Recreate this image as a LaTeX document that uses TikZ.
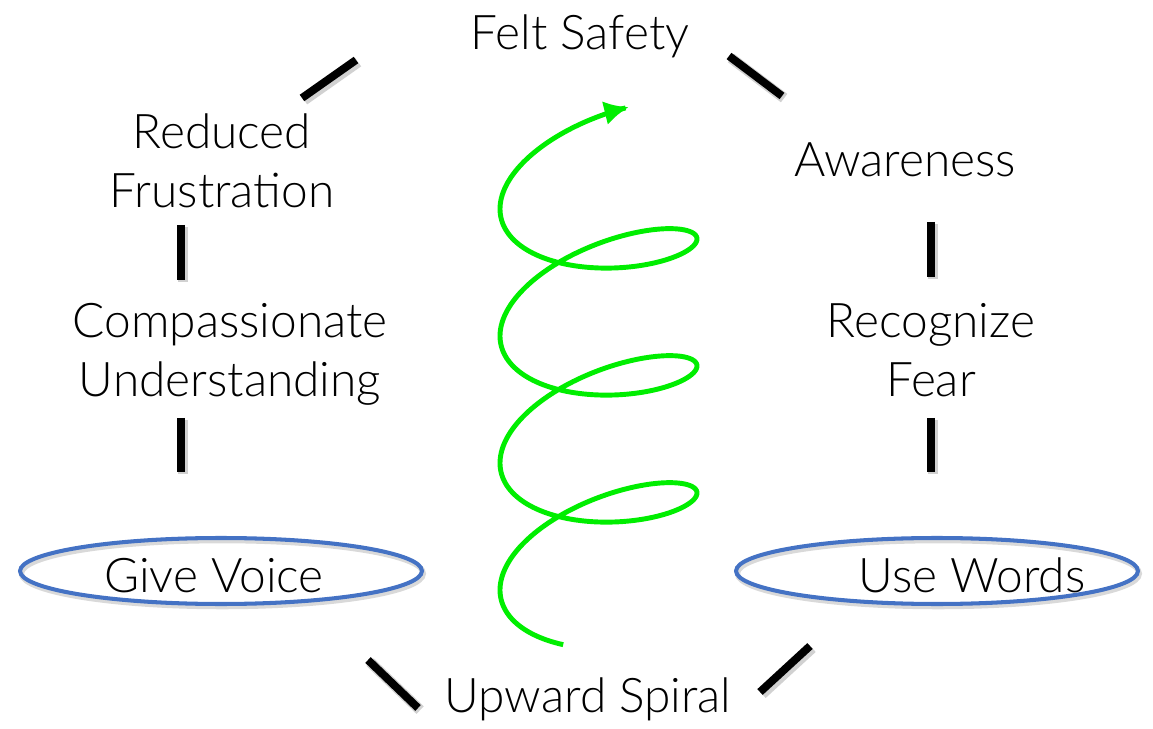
\documentclass[tikz,border=0pt]{standalone}
\usepackage{fontspec}
\setmainfont{Lato}[UprightFont=* Light]
\usetikzlibrary{arrows.meta,shapes.geometric}

\definecolor{spiralgreen}{RGB}{0,238,0}
\definecolor{ovalblue}{RGB}{68,114,196}

\begin{document}
\begin{tikzpicture}[
  x=0.02cm, y=-0.02cm,
  word/.style={font=\fontsize{27.2}{34}\selectfont, align=center, inner sep=0pt, anchor=base},
  bar/.style={line width=4.5pt, black,
    preaction={draw=black!18, line width=6pt, transform canvas={shift={(1.2pt,-1.2pt)}}}},
  oval/.style={draw=ovalblue, line width=2.3pt, ellipse, minimum width=8.04cm, minimum height=1.32cm,
    preaction={draw=black!15, line width=3pt, transform canvas={shift={(0.8pt,-1.5pt)}}}},
  spiral/.style={draw=spiralgreen, line width=2.8pt, -{Latex[length=14pt,width=14pt]}},
]
\useasboundingbox (0,0) rectangle (1153,729);

% the cycle of words (base = last line)
\node[word] (safety) at (580,50) {Felt Safety};
\node[word] (aware) at (905,177) {Awareness};
\node[word] (fear) at (931,397) {Recognize\\Fear};
\node[word] (words) at (972,592) {Use Words};
\node[word] (spiraltxt) at (588,712) {Upward Spiral};
\node[word] (voice) at (214,592) {Give Voice};
\node[word] (compass) at (230,397) {Compassionate\\Understanding};
\node[word] (reduced) at (222,208) {Reduced\\Frustration};

% ovals round the two actions
\node[oval] (voiceoval) at (221,571) {};
\node[oval] (wordsoval) at (937,571) {};

% short bars between the steps
\draw[bar] (302,98) -- (356,60);
\draw[bar] (729,56) -- (782,96);
\draw[bar] (931,222) -- (931,277);
\draw[bar] (931,418) -- (931,472);
\draw[bar] (810,646) -- (760,692);
\draw[bar] (368,660) -- (418,708);
\draw[bar] (181,418) -- (181,472);
\draw[bar] (181,225) -- (181,280);

% rising helix in the middle
\draw[spiral] plot[domain=111:1368, samples=500, variable=\t, smooth]
  ({598.5+98.5*cos(\t)}, {636.75-0.3528*\t+44*sin(\t)-16.75*cos(\t)});

\end{tikzpicture}
\end{document}
